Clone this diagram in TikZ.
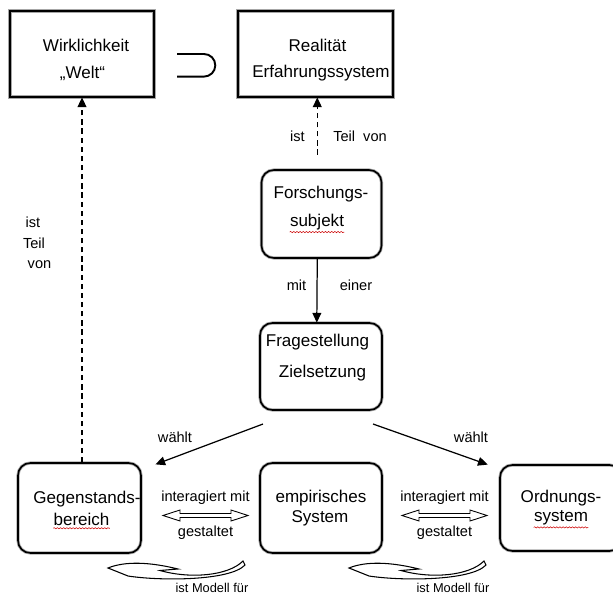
\documentclass[tikz,border=0pt]{standalone}
\usepackage{fontspec}
\setmainfont{Liberation Sans}
\usetikzlibrary{
    arrows.meta,
    decorations.pathmorphing
}
\tikzset{
    rahmen/.style={draw=gray!70, double=black, double distance=0.9pt, line width=0.45pt, inner sep=0pt},
    kasten/.style={rahmen, minimum height=1.72cm},
    rkasten/.style={rahmen, rounded corners=7pt, minimum width=2.44cm, minimum height=1.78cm},
    txt/.style={inner sep=0pt, font=\fontsize{9.7}{11}\selectfont},
    lbl/.style={inner sep=0pt, font=\fontsize{8.3}{10}\selectfont},
    klein/.style={inner sep=0pt, font=\fontsize{7.3}{9}\selectfont},
    pfeil/.style={-{Triangle[length=5.5pt, width=5pt]}, line width=0.7pt},
    strich/.style={pfeil, dash pattern=on 3pt off 2.2pt},
    welle/.style={red!80!black, line width=0.3pt, decorate, decoration={snake, amplitude=0.35pt, segment length=1.8pt}}
}
\begin{document}
\begin{tikzpicture}[x=0.02cm, y=-0.02cm]
    \useasboundingbox (0,0) rectangle (613,599);
    % obere Reihe
    \node[kasten, minimum width=2.88cm] (wirk) at (82,54) {};
    \node[kasten, minimum width=3.1cm] (real) at (315.5,54) {};
    \node[txt] (wirk1) at (86,45) {Wirklichkeit};
    \node[txt] (wirk2) at (82.5,73) {„Welt“};
    \node[txt] (real1) at (317.5,45) {Realität};
    \node[txt] (real2) at (321,73) {Erfahrungssystem};
    \draw[line width=1.1pt] (177,54) -- (204,54) arc[start angle=90, end angle=-90, radius=0.226cm] -- (177,76.6);
    % mittlere Spalte
    \node[rkasten, minimum width=2.4cm, minimum height=1.76cm] (forsch) at (321.5,214) {};
    \node[txt] (forsch1) at (321,194) {Forschungs-};
    \node[txt] (forsch2) at (317,222) {subjekt};
    \node[rkasten, minimum height=1.74cm] (frage) at (321,366.5) {};
    \node[txt] (frage1) at (317.5,342) {Fragestellung};
    \node[txt] (frage2) at (322.5,373) {Zielsetzung};
    \draw[strich] ([xshift=-2.4pt, yshift=8.5pt]forsch.north) -- ([xshift=-2.4pt]forsch.north |- real.south);
    \node[lbl] (ist1) at (297.5,136) {ist};
    \node[lbl] (teil1) at (360,136) {Teil\ \ von};
    \draw[pfeil] ([xshift=-2.4pt]forsch.south) -- ([xshift=-2.4pt]frage.north);
    \node[lbl] (mit) at (296.5,285) {mit};
    \node[lbl] (einer) at (356,285) {einer};
    % untere Reihe
    \node[rkasten, minimum width=2.46cm, minimum height=1.8cm] (gegen) at (79.5,508) {};
    \node[txt] (gegen1) at (87,499) {Gegenstands-};
    \node[txt] (gegen2) at (81.5,519) {bereich};
    \node[rkasten, minimum height=1.8cm] (empir) at (321,508) {};
    \node[txt] (empir1) at (321,498) {empirisches};
    \node[txt] (empir2) at (320,518) {System};
    \node[rkasten, minimum height=1.72cm] (ordn) at (561,508) {};
    \node[txt] (ordn1) at (561,498) {Ordnungs-};
    \node[txt] (ordn2) at (561,518) {system};
    \draw[welle] ([yshift=-1pt]forsch2.south west) -- ([yshift=-1pt]forsch2.south east);
    \draw[welle] ([yshift=-1.5pt]gegen2.south west) -- ([yshift=-1.5pt]gegen2.south east);
    \draw[welle] ([yshift=-1pt]ordn2.south west) -- ([yshift=-1pt]ordn2.south east);
    % ist Teil von (links)
    \draw[strich] (gegen.north -| wirk.south) -- (wirk.south);
    \node[lbl] (ist2) at (33,222.5) {ist};
    \node[lbl] (teil2) at (34,243.5) {Teil};
    \node[lbl] (von2) at (39.5,265) {von};
    % waehlt
    \coordinate (wl) at (263,424);
    \coordinate (wr) at (373,424);
    \draw[pfeil] (wl) -- ([xshift=8pt, yshift=-1pt]gegen.north east);
    \draw[pfeil] (wr) -- ([xshift=-6.8pt]ordn.north west);
    \node[lbl] (waehlt1) at (175,437) {wählt};
    \node[lbl] (waehlt2) at (471,437) {wählt};
    % interagiert mit / gestaltet
    \foreach \a in {163,402}{
        \draw[line width=0.5pt, fill=white] (\a,515.5) -- (\a+17,510) -- (\a+17,513.5) -- (\a+68,513.5) -- (\a+68,510) -- (\a+85,515.5) -- (\a+68,521) -- (\a+68,517.5) -- (\a+17,517.5) -- (\a+17,521) -- cycle;
    }
    \node[lbl] (ia1) at (205.5,498) {interagiert mit};
    \node[lbl] (ge1) at (205.5,533) {gestaltet};
    \node[lbl] (ia2) at (444.5,498) {interagiert mit};
    \node[lbl] (ge2) at (444.5,533) {gestaltet};
    % ist Modell fuer
    \foreach \d in {0,241}{
        \draw[line width=0.6pt, fill=white, shift={(\d,0)}] (108,568) .. controls (125,561) and (150,562) .. (178,569) -- (160,570.5) .. controls (190,579) and (228,576) .. (243,561) -- (245,565) .. controls (230,581) and (160,581) .. (128,576) -- cycle;
    }
    \node[klein] (modell1) at (212,588) {ist Modell für};
    \node[klein] (modell2) at (453,588) {ist Modell für};
\end{tikzpicture}
\end{document}
